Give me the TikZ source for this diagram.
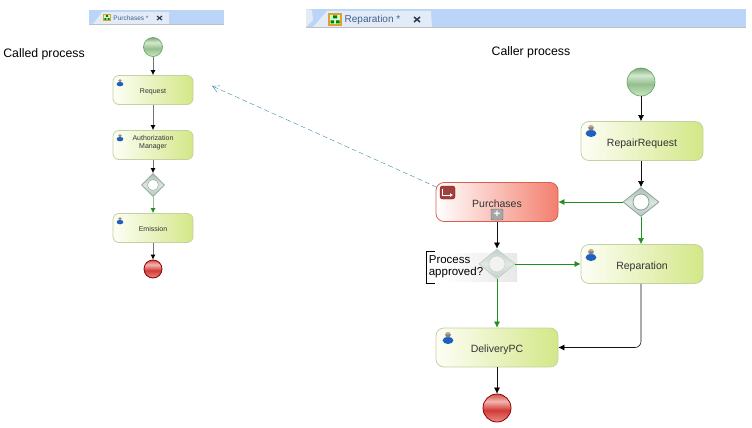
\documentclass[tikz,border=0pt]{standalone}
\usepackage{fontspec}
\setmainfont{Liberation Sans}
\usepackage{xcolor}
\usetikzlibrary{arrows.meta,positioning,calc,shapes.geometric}
\definecolor{Flow}{HTML}{111111}
\definecolor{Yes}{HTML}{1F8F1F}
\definecolor{TaskStart}{HTML}{FDFEF6}
\definecolor{TaskEnd}{HTML}{D3E787}
\definecolor{TaskLine}{HTML}{C3D3A0}
\definecolor{CallEnd}{HTML}{F37F6E}
\definecolor{CallLine}{HTML}{D9604F}
\definecolor{Band}{HTML}{BAD5F8}
\definecolor{TabFill}{HTML}{E3EBF6}
\definecolor{TabText}{HTML}{41608F}
\definecolor{Link}{HTML}{3A8CA6}
\definecolor{GateLine}{HTML}{8AA598}
\definecolor{PaleGate}{HTML}{C4D0C9}
\definecolor{Frame}{HTML}{DFA030}
\definecolor{UserBlue}{HTML}{1F5FBF}
\definecolor{UserHead}{HTML}{C9A898}
\definecolor{StartA}{HTML}{CFE5C6}
\definecolor{StartB}{HTML}{93C08C}
\definecolor{StartC}{HTML}{D5E8CF}
\definecolor{StartD}{HTML}{7FAA7F}
\definecolor{EndA}{HTML}{E88A86}
\definecolor{EndB}{HTML}{D23A36}
\definecolor{EndC}{HTML}{F2B5B0}
\definecolor{EndD}{HTML}{D0504C}
\pgfdeclareverticalshading{startshade}{100bp}{color(0bp)=(StartA);color(25bp)=(StartA);color(46bp)=(StartB);color(62bp)=(StartC);color(75bp)=(StartD);color(100bp)=(StartD)}
\pgfdeclareverticalshading{endshade}{100bp}{color(0bp)=(EndA);color(25bp)=(EndA);color(46bp)=(EndB);color(62bp)=(EndC);color(75bp)=(EndD);color(100bp)=(EndD)}

\begin{document}
\begin{tikzpicture}[x=1pt,y=-1pt,
task/.style={rectangle,rounded corners=6pt,draw=TaskLine,thick,left color=TaskStart,right color=TaskEnd,minimum width=80pt,minimum height=29pt,inner sep=0pt,align=center,text=black!80,text height=7pt,text depth=1pt,font=\fontsize{7}{8}\selectfont},
bigtask/.style={task,rounded corners=8pt,minimum width=122pt,minimum height=39pt,text height=12pt,text depth=2pt,font=\fontsize{10.5}{12}\selectfont},
callact/.style={bigtask,draw=CallLine,left color=white,right color=CallEnd},
startev/.style={circle,draw=green!30!gray,shading=startshade,semithick,inner sep=0pt},
endev/.style={circle,draw=red!55!black,shading=endshade,thick,inner sep=0pt},
gate/.style={diamond,draw=GateLine,top color=GateLine!70,bottom color=GateLine!60,middle color=GateLine!30,thick,inner sep=0pt},
hole/.style={circle,draw=GateLine,fill=white,inner sep=0pt},
flow/.style={-{Latex[length=6pt,width=6pt,black]},semithick,draw=Flow},
smallflow/.style={-{Latex[length=5pt,width=5pt,black]},thick,draw=black!55},
yes/.style={flow,draw=Yes,-{Latex[length=6pt,width=6pt,Yes]}},
caption/.style={font=\fontsize{12.3}{14}\selectfont,text=black},
tabtext/.style={text=TabText,inner sep=0pt},
pics/user/.style={code={
\fill[UserBlue] (0,3.4) ellipse[x radius=5.4,y radius=3.6];
\fill[UserHead] (0,-2.4) circle (2.8);
\fill[black!50] (-2.8,-2.6) arc[start angle=180,end angle=0,radius=2.8] -- cycle;}},
pics/tabicon/.style={code={
\fill[Frame] (-7,-6.5) rectangle (7,6.5);
\fill[green!20!white] (-5,-4.8) rectangle (5,4.8);
\fill[green!50!black] (-2,-4) rectangle (2,-1) (-4.5,1) rectangle (-1,4) (1,1) rectangle (4.5,4);}}
]
\useasboundingbox (0,0) rectangle (752,428);
% tab bars
\fill[Band] (89,10) rectangle (224,24);
\fill[black!25] (89,24) rectangle (224,25);
\fill[TabFill] (89,24) -- (93,24) -- (102,12) -- (169,12) -- (169,24) -- cycle;
\node[tabtext,font=\fontsize{6.5}{8}\selectfont] (tabLeft) at (131,18) {Purchases *};
\pic[scale=.58] at (107,17.5) {tabicon};
\draw[TabText!70!black,very thick] (157,16)--(162,20) (157,20)--(162,16);
\fill[Band] (306,9) rectangle (746,27);
\fill[black!25] (306,27) rectangle (746,28);
\fill[TabFill] (306,9) -- (312,10) -- (313,20) -- (306,27) -- cycle;
\fill[TabFill] (313,27) -- (327,11) -- (431,11) -- (432,27) -- cycle;
\node[tabtext,font=\fontsize{10}{12}\selectfont] (tabRight) at (372.5,20) {Reparation *};
\pic at (335,19.5) {tabicon};
\draw[TabText!60!black,line width=1.5pt] (414,17)--(420,22) (414,22)--(420,17);
% captions
\node[caption] (called) at (44,54.5) {Called process};
\node[caption] (caller) at (531,52.5) {Caller process};
% called process
\node[startev,minimum size=19pt] (s1) at (153,47) {};
\node[task] (req) at (153,90) {Request};
\node[task,text height=11pt,text depth=5pt] (auth) at (153,145) {Authorization\\Manager};
\node[gate,minimum width=23pt,minimum height=23pt] (g1) at (153,185) {};
\node[hole,minimum size=11pt] (h1) at (153,185) {};
\node[task] (emi) at (153,228) {Emission};
\node[endev,minimum size=18pt] (e1) at (153,269) {};
\pic[scale=.62] at (120,82) {user};
\pic[scale=.62] at (120,137) {user};
\pic[scale=.62] at (120,220) {user};
\draw[smallflow] (s1)--(req);
\draw[smallflow] (req)--(auth);
\draw[smallflow] (auth)--(g1);
\draw[smallflow,draw=Yes!50,-{Latex[length=5pt,width=5pt,Yes]}] (g1)--(emi);
\draw[smallflow] (emi)--(e1);
% caller process
\fill[left color=white,right color=black!9] (440,253) rectangle (517,281);
\node[startev,minimum size=28pt] (s2) at (641,82) {};
\node[bigtask] (rep) at (642,141) {RepairRequest};
\node[gate,minimum width=36pt,minimum height=29pt] (g2) at (641,202) {};
\node[hole,minimum size=16pt,thick] (h2) at (641,202) {};
\node[callact] (pur) at (497,202) {Purchases};
\node[gate,draw=PaleGate,top color=PaleGate,bottom color=PaleGate,middle color=PaleGate!50,minimum width=36pt,minimum height=30pt] (g3) at (497,264) {};
\node[hole,minimum size=16pt,draw=PaleGate,fill=black!5] (h3) at (497,264) {};
\node[bigtask] (rpn) at (642,264) {Reparation};
\node[bigtask] (del) at (497,347.5) {DeliveryPC};
\node[endev,minimum size=28pt] (e2) at (497,408) {};
\node[font=\fontsize{11.5}{12.5}\selectfont,align=left,inner sep=0pt] (quest) at (456,266.5) {Process\\approved?};
\draw[thin] (435,251)--(426,251)--(426,283)--(435,283);
\node[draw=black!60,fill=black!35,text=white,minimum width=12pt,minimum height=11pt,inner sep=0pt,rounded corners=1pt,font=\bfseries\fontsize{11}{11}\selectfont] (plus) at (497,214.5) {+};
\node[rectangle,rounded corners=2.5pt,draw=red!60!black,fill=red!50!black!75,minimum width=15pt,minimum height=13pt,inner sep=0pt] (sub) at (447.5,192.5) {};
\draw[white,thick,-{Latex[length=3pt,width=4pt]}] (442.5,188.5)--(442.5,195)--(453,195);
\pic at (591,130) {user};
\pic at (591,254) {user};
\pic at (448,337) {user};
\draw[flow] (s2)--(g2|-rep.north);
\draw[flow] (g2|-rep.south)--(g2);
\draw[yes] (g2)--(pur);
\draw[yes] (g2)--(g2|-rpn.north);
\draw[flow] (pur)--(g3);
\draw[yes] (g3)--(rpn);
\draw[yes] (g3)--(del);
\draw[flow,rounded corners=6pt] (g2|-rpn.south)|-(del);
\draw[flow] (del)--(e2);
% link between the two
\coordinate (target) at (212,86);
\draw[dash pattern=on 5pt off 3pt,Link,-{Straight Barb[length=7pt,width=7pt]}] (pur.north west)++(1,5) -- (target);
\end{tikzpicture}
\end{document}
